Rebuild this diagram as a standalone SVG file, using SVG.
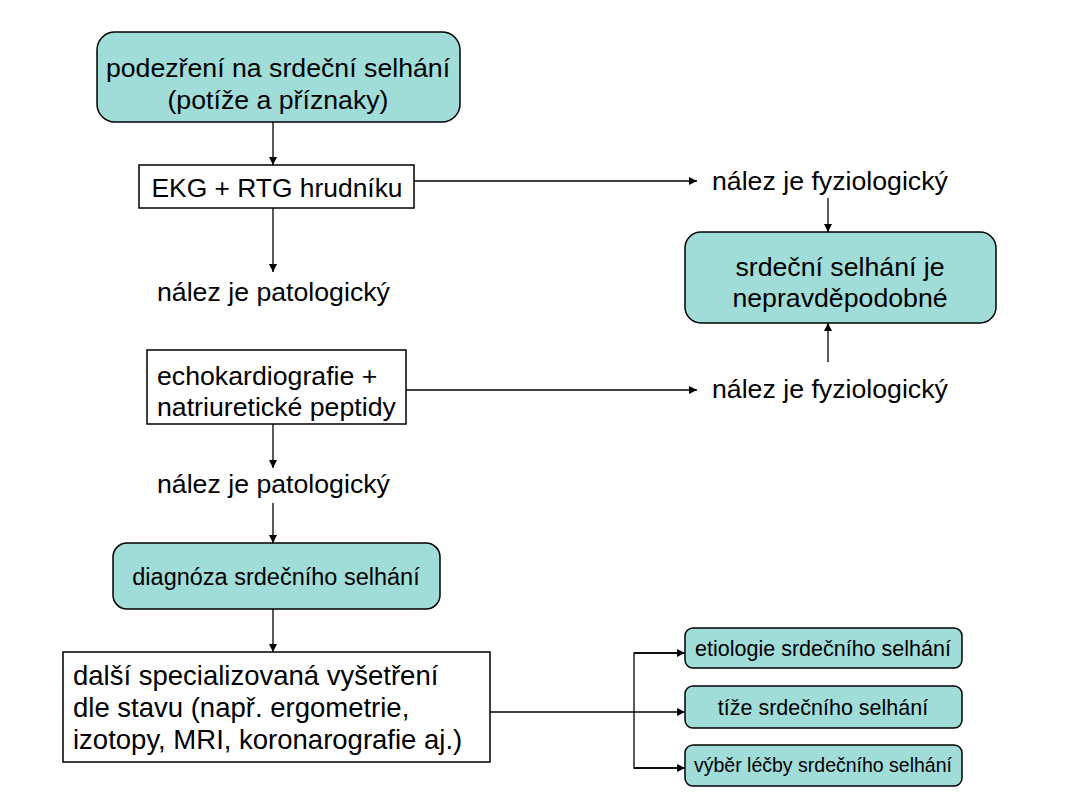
<svg xmlns="http://www.w3.org/2000/svg" width="1067" height="800" viewBox="0 0 1067 800">
<defs>
<marker id="a" viewBox="0 0 10 10" refX="10" refY="5" markerWidth="8" markerHeight="8" orient="auto" markerUnits="userSpaceOnUse"><path d="M0,0L10,5L0,10z" fill="#000"/></marker>
<style>
text{font-family:"Liberation Sans",Arial,sans-serif;fill:#000}
.t{fill:#a0dcd8;stroke:#000;stroke-width:1.5}
.w{fill:#fff;stroke:#000;stroke-width:1.5}
.c line,.c polyline{stroke:#000;stroke-width:1.3;fill:none}
</style>
</defs>
<rect width="1067" height="800" fill="#fff"/>
<g id="n1"><rect class="t" x="97" y="32" width="363" height="90" rx="18"/><text x="278" y="77" font-size="26.7" text-anchor="middle">podezření na srdeční selhání</text><text x="278" y="109" font-size="26.7" text-anchor="middle">(potíže a příznaky)</text></g>
<g id="n2"><rect class="w" x="139" y="165" width="275" height="43"/><text x="277" y="197" font-size="26.4" text-anchor="middle">EKG + RTG hrudníku</text></g>
<g id="l1"><text x="712" y="190" font-size="26.7">nález je fyziologický</text></g>
<g id="n3"><rect class="t" x="685" y="232" width="311" height="91" rx="16"/><text x="840" y="276" font-size="26.7" text-anchor="middle">srdeční selhání je</text><text x="840" y="307" font-size="26.7" text-anchor="middle">nepravděpodobné</text></g>
<g id="l2"><text x="157" y="301" font-size="26.7">nález je patologický</text></g>
<g id="n4"><rect class="w" x="147" y="350" width="259" height="74"/><text x="157" y="385" font-size="26.7">echokardiografie +</text><text x="157" y="416" font-size="26.7">natriuretické peptidy</text></g>
<g id="l3"><text x="712" y="398" font-size="26.7">nález je fyziologický</text></g>
<g id="l4"><text x="157" y="493" font-size="26.7">nález je patologický</text></g>
<g id="n5"><rect class="t" x="113" y="543" width="327" height="66" rx="14"/><text x="276" y="585" font-size="23.5" text-anchor="middle">diagnóza srdečního selhání</text></g>
<g id="n6"><rect class="w" x="63" y="652" width="427" height="110"/><text x="73" y="685" font-size="27.5">další specializovaná vyšetření</text><text x="73" y="717" font-size="27.5">dle stavu (např. ergometrie,</text><text x="73" y="749" font-size="27.5">izotopy, MRI, koronarografie aj.)</text></g>
<g id="n7"><rect class="t" x="685" y="628" width="277" height="40" rx="8"/><text x="823" y="656" font-size="21.5" text-anchor="middle">etiologie srdečního selhání</text></g>
<g id="n8"><rect class="t" x="685" y="686" width="277" height="42" rx="8"/><text x="823" y="715" font-size="21.5" text-anchor="middle">tíže srdečního selhání</text></g>
<g id="n9"><rect class="t" x="685" y="745" width="277" height="41" rx="8"/><text x="823" y="772" font-size="19.5" text-anchor="middle">výběr léčby srdečního selhání</text></g>
<g class="c" id="connectors">
<line x1="273" y1="122" x2="273" y2="165" marker-end="url(#a)"/>
<line x1="414" y1="181" x2="697" y2="181" marker-end="url(#a)"/>
<line x1="828" y1="198" x2="828" y2="232" marker-end="url(#a)"/>
<line x1="273" y1="208" x2="273" y2="272" marker-end="url(#a)"/>
<line x1="406" y1="390" x2="697" y2="390" marker-end="url(#a)"/>
<line x1="828" y1="362" x2="828" y2="323" marker-end="url(#a)"/>
<line x1="273" y1="424" x2="273" y2="468" marker-end="url(#a)"/>
<line x1="273" y1="503" x2="273" y2="543" marker-end="url(#a)"/>
<line x1="273" y1="609" x2="273" y2="652" marker-end="url(#a)"/>
<line x1="490" y1="712" x2="685" y2="712" marker-end="url(#a)"/>
<polyline points="685,653 634,653 634,768 685,768"/>
<line x1="634" y1="653" x2="685" y2="653" marker-end="url(#a)"/>
<line x1="634" y1="768" x2="685" y2="768" marker-end="url(#a)"/>
</g>
</svg>
